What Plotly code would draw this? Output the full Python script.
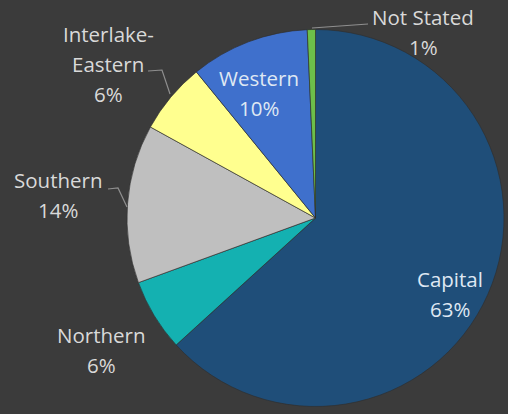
import plotly.graph_objects as go

# ---- data ----
regions = ["Capital", "Northern", "Southern", "Interlake-Eastern", "Western", "Not Stated"]
shares = [63.3, 6.2, 13.6, 6.1, 10.2, 0.7]
slice_colors = ["#1f4e79", "#14b1b1", "#bfbfbf", "#ffff8f", "#3f70cc", "#6cbf4a"]
label_lines = [["Capital"], ["Northern"], ["Southern"], ["Interlake-", "Eastern"], ["Western"], ["Not Stated"]]

# ---- layout helpers (pixel positions of label blocks) ----
W, H = 508, 414
ML, MR, MT, MB = 127, 4, 29, 7
PW, PH = W - ML - MR, H - MT - MB

def px(x):
    return (x - ML) / PW

def py(y):
    return 1 - (y - MT) / PH

label_pos = {  # top line centre, pixel coords
    "Capital": (450, 279),
    "Northern": (101, 335),
    "Southern": (58, 180),
    "Interlake-Eastern": (108, 34),
    "Western": (259, 78),
    "Not Stated": (423, 17),
}
inside = {"Capital", "Western"}
LINE = 30

fig = go.Figure(go.Pie(
    labels=regions,
    values=shares,
    sort=False,
    direction="clockwise",
    rotation=0,
    textinfo="none",
    marker=dict(colors=slice_colors, line=dict(color="rgba(45,45,45,0.8)", width=0.8)),
    hoverinfo="label+percent",
    showlegend=False,
))

total = sum(shares)
annotations = []
for name, val, lines in zip(regions, shares, label_lines):
    cx, cy = label_pos[name]
    texts = lines + [f"{round(val / total * 100)}%"]
    col = "#dfe8f3" if name in inside else "#d9d9d9"
    for i, t in enumerate(texts):
        annotations.append(dict(
            x=px(cx), y=py(cy + i * LINE), xref="paper", yref="paper",
            text=t, showarrow=False, xanchor="center", yanchor="middle",
            font=dict(family="Open Sans, sans-serif", size=20.5, color=col),
        ))

leaders = [
    [(148, 71), (162, 70), (170, 94)],
    [(108, 189), (118, 188), (127, 207)],
    [(312, 28), (368, 24)],
]
shapes = []
for pts in leaders:
    path = "M " + " L ".join(f"{px(x):.4f},{py(y):.4f}" for x, y in pts)
    shapes.append(dict(type="path", path=path, xref="paper", yref="paper",
                       line=dict(color="#8f8f8f", width=1.2)))

fig.update_layout(
    width=W, height=H,
    margin=dict(l=ML, r=MR, t=MT, b=MB),
    paper_bgcolor="#3b3b3b",
    plot_bgcolor="#3b3b3b",
    annotations=annotations,
    shapes=shapes,
)

fig.write_html("out.html")
